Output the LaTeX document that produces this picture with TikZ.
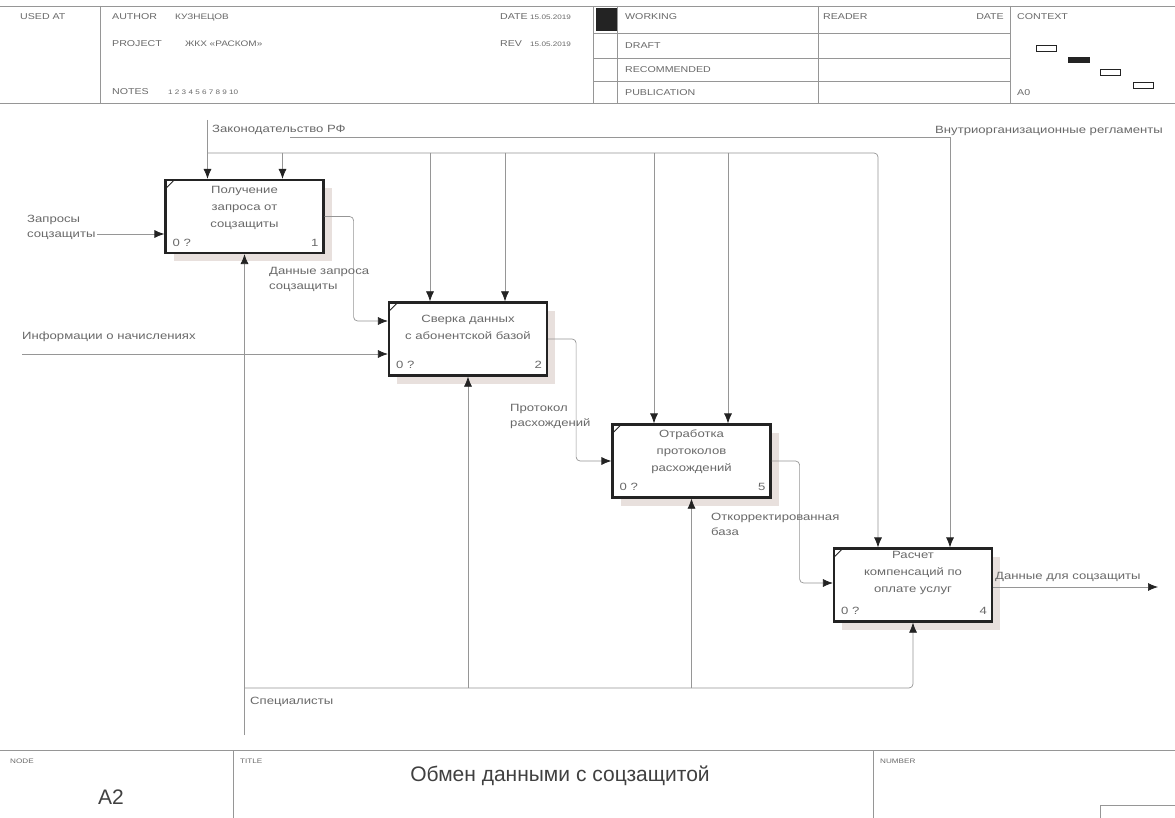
\documentclass[tikz,border=0pt]{standalone}
\usepackage{fontspec}
\setmainfont{Liberation Sans}
\newfontfamily\labf[FakeStretch=1.25]{Liberation Sans}
\usetikzlibrary{arrows.meta,shadows}
\definecolor{txt}{RGB}{105,105,105}
\definecolor{ln}{RGB}{150,150,150}
\definecolor{frm}{RGB}{35,35,35}
\definecolor{shad}{RGB}{232,224,221}
\begin{document}
\begin{tikzpicture}[x=1pt,y=-1pt,
  fn/.style={font=\labf\fontsize{10.5}{15}\selectfont, text=txt, inner sep=0pt},
  hd/.style={font=\labf\fontsize{8.5}{10}\selectfont, text=txt, inner sep=0pt, anchor=base west},
  hs/.style={font=\labf\fontsize{6.5}{8}\selectfont, text=txt, inner sep=0pt, anchor=base west},
  hm/.style={font=\labf\fontsize{8}{10}\selectfont, text=txt, inner sep=0pt, anchor=base west},
  boxtxt/.style={font=\labf\fontsize{10.5}{17}\selectfont, text=txt, align=center, inner sep=0pt},
  proc/.style={draw=frm, line width=2.2pt, fill=white, minimum width=158pt, minimum height=73pt, inner sep=0pt,
    drop shadow={shadow xshift=8pt, shadow yshift=-8pt, fill=shad, opacity=1}},
  arr/.style={draw=ln, line width=0.7pt, rounded corners=4pt, -{Latex[length=10pt,width=8pt,color=frm]}},
  frame/.style={draw=ln, line width=0.6pt}]
\useasboundingbox (0,0) rectangle (1175,818);
\fill[white] (0,0) rectangle (1175,818);

% ---------- header ----------
\draw[frame] (0,6) -- (1175,6);
\draw[frame] (0,103) -- (1175,103);
\draw[frame] (100,6) -- (100,103);
\draw[frame] (593,6) -- (593,103);
\draw[frame] (617,6) -- (617,103);
\draw[frame] (818,6) -- (818,103);
\draw[frame] (1010,6) -- (1010,103);
\draw[frame] (593,33) -- (1010,33);
\draw[frame] (593,58) -- (1010,58);
\draw[frame] (593,81) -- (1010,81);
\fill[frm] (596,8) rectangle (617,31);
\node[hd] (usedat) at (20,20) {USED AT};
\node[hd] (author) at (112,20) {AUTHOR};
\node[hm] (authn) at (175,20) {КУЗНЕЦОВ};
\node[hd] (project) at (112,47) {PROJECT};
\node[hm] (projn) at (185,47) {ЖКХ «РАСКОМ»};
\node[hd] (notes) at (112,95) {NOTES};
\node[hs] (notesn) at (168,95) {1 2 3 4 5 6 7 8 9 10};
\node[hd] (date1) at (500,20) {DATE};
\node[hs] (date1v) at (530,20) {15.05.2019};
\node[hd] (rev) at (500,47) {REV};
\node[hs] (revv) at (530,47) {15.05.2019};
\node[hd] (working) at (625,20) {WORKING};
\node[hd] (draft) at (625,49) {DRAFT};
\node[hd] (recom) at (625,73) {RECOMMENDED};
\node[hd] (publ) at (625,96) {PUBLICATION};
\node[hd] (reader) at (823,20) {READER};
\node[hd, anchor=base east] (date2) at (1004,20) {DATE};
\node[hd] (context) at (1017,20) {CONTEXT};
\node[hd] (a0) at (1017,96) {A0};
\draw[frm, line width=0.5pt] (1036,45) rectangle (1056,51);
\fill[frm] (1068,57) rectangle (1090,63);
\draw[frm, line width=0.5pt] (1100,69) rectangle (1120,75);
\draw[frm, line width=0.5pt] (1133,82) rectangle (1153,88);

% ---------- boxes ----------
\node[proc] (b1) at (244.5,216.5) {};
\node[proc] (b2) at (468,339) {};
\node[proc] (b3) at (691.5,461) {};
\node[proc] (b4) at (913,585) {};
\foreach \b/\n in {b1/1,b2/2,b3/5,b4/4}{
  \draw[frm, line width=0.8pt] ([shift={(2,9)}]\b.north west) -- ([shift={(9,2)}]\b.north west);
  \node[fn, anchor=base west] at ([shift={(8,-8)}]\b.south west) {0 ?};
  \node[fn, anchor=base east] at ([shift={(-6,-8)}]\b.south east) {\n};
}
\node[boxtxt] (b1t) at ([yshift=9pt]b1.center) {Получение\\запроса от\\соцзащиты};
\node[boxtxt] (b2t) at ([yshift=12pt]b2.center) {Сверка данных\\с абонентской базой};
\node[boxtxt] (b3t) at ([yshift=9pt]b3.center) {Отработка\\протоколов\\расхождений};
\node[boxtxt] (b4t) at ([yshift=12pt]b4.center) {Расчет\\компенсаций по\\оплате услуг};

% ---------- controls ----------
\coordinate (law) at (207.5,120);
\coordinate (lawbus) at (207.5,153);
\coordinate (regsrc) at (290,137);
\draw[arr] (law) -- ([xshift=-37pt]b1.north);
\draw[arr] (lawbus) -| ([xshift=-35pt]b4.north);
\draw[arr] ([xshift=38pt]b1.north |- lawbus) -- ([xshift=38pt]b1.north);
\draw[arr] ([xshift=-38pt]b2.north |- lawbus) -- ([xshift=-38pt]b2.north);
\draw[arr] ([xshift=37pt]b2.north |- lawbus) -- ([xshift=37pt]b2.north);
\draw[arr] ([xshift=-37.5pt]b3.north |- lawbus) -- ([xshift=-37.5pt]b3.north);
\draw[arr] ([xshift=36.5pt]b3.north |- lawbus) -- ([xshift=36.5pt]b3.north);
\draw[arr, rounded corners=0pt] (regsrc) -| ([xshift=37pt]b4.north);
\node[fn, anchor=base west] (lawl) at (212,133) {Законодательство РФ};
\node[fn, anchor=base west] (regl) at (935,134) {Внутриорганизационные регламенты};

% ---------- inputs / outputs ----------
\coordinate (in1) at (97,234);
\coordinate (in2) at (22,354);
\coordinate (out4) at (1158,587);
\draw[arr] (in1) -- (in1 -| b1.west);
\draw[arr] (in2) -- (in2 -| b2.west);
\draw[arr] (b1.east) -- ++(29,0) |- ([yshift=18pt]b2.west);
\draw[arr] (b2.east) -- ++(28,0) |- (b3.west);
\draw[arr] (b3.east) -- ++(28,0) |- ([yshift=2pt]b4.west);
\draw[arr] ([yshift=-2pt]b4.east) -- (out4);
\node[fn, anchor=north west, align=left] (inl1) at (27,215) {Запросы\\соцзащиты};
\node[fn, anchor=base west] (inl2) at (22,339) {Информации о начислениях};
\node[fn, anchor=north west, align=left] (f12) at (269,267) {Данные запроса\\соцзащиты};
\node[fn, anchor=north west, align=left] (f23) at (510,404) {Протокол\\расхождений};
\node[fn, anchor=north west, align=left] (f34) at (711,513) {Откорректированная\\база};
\node[fn, anchor=base west] (outl) at (995,579) {Данные для соцзащиты};

% ---------- mechanisms ----------
\coordinate (mech) at (244.5,735);
\coordinate (mechbus) at (244.5,688);
\draw[arr] (mech) -- (b1.south);
\draw[arr] (mechbus) -| (b4.south);
\draw[arr] (b2.south |- mechbus) -- (b2.south);
\draw[arr] (b3.south |- mechbus) -- (b3.south);
\node[fn, anchor=base west] (mechl) at (250,704) {Специалисты};

% ---------- footer ----------
\draw[frame] (0,750) -- (1175,750);
\draw[frame] (233,750) -- (233,818);
\draw[frame] (873,750) -- (873,818);
\node[hs] (nodel) at (10,763) {NODE};
\node[hs] (titlel) at (240,763) {TITLE};
\node[hs] (numl) at (880,763) {NUMBER};
\node[font=\fontsize{21}{24}\selectfont, text=black!75, inner sep=0pt] (title) at (560,776) {Обмен данными с соцзащитой};
\node[font=\fontsize{21}{24}\selectfont, text=black!75, inner sep=0pt] (nodeid) at (111,797) {A2};
\draw[frame] (1100,818) -- (1100,805) -- (1175,805);
\end{tikzpicture}
\end{document}
